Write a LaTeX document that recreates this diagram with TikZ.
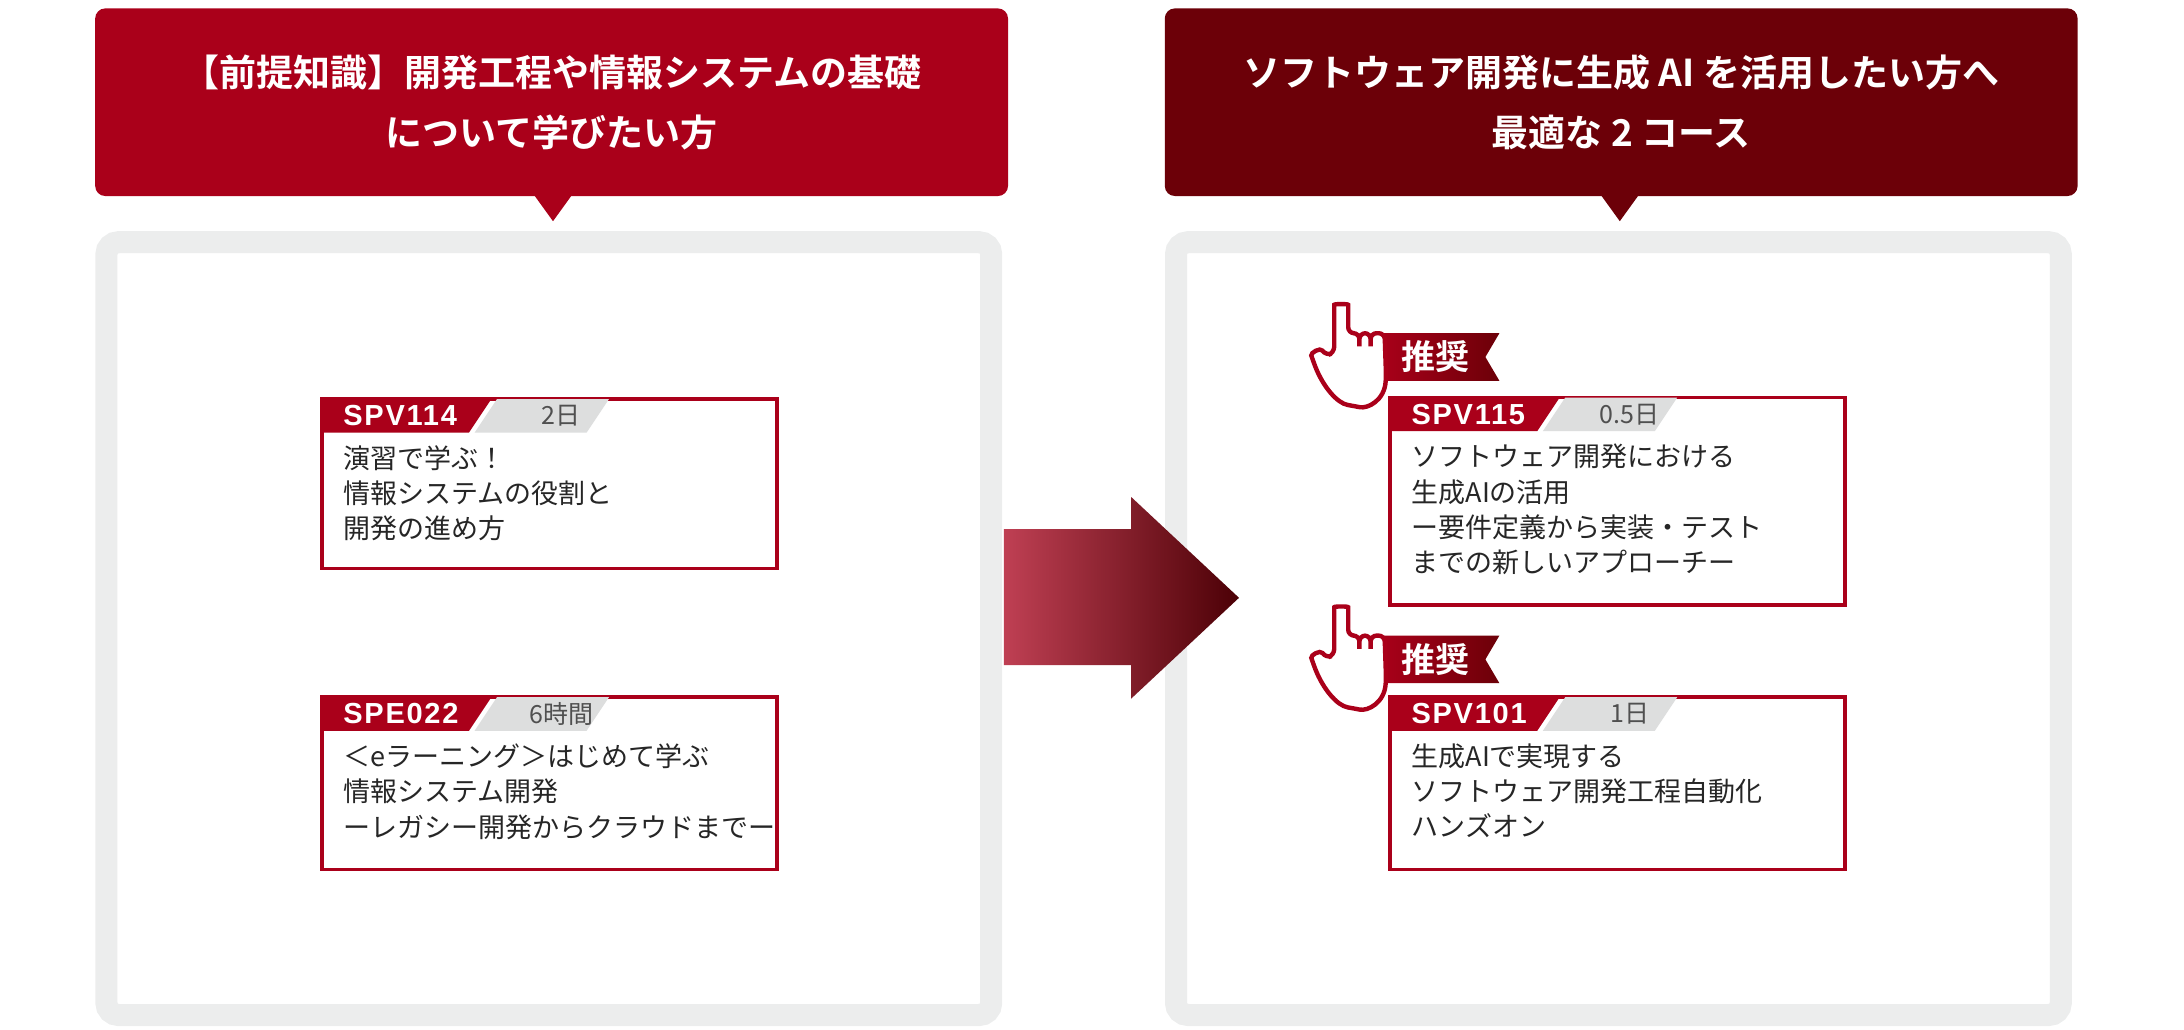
\documentclass[tikz,border=0pt]{standalone}
\usepackage{fontspec}
\setmainfont{Noto Sans CJK JP}
\newfontfamily\headfont{Noto Sans CJK JP Bold}
\newfontfamily\tabfont[LetterSpace=6]{Liberation Sans}
\usetikzlibrary{positioning}
\definecolor{spvred}{RGB}{170,0,26}
\definecolor{spvdark}{RGB}{108,0,8}
\definecolor{framegray}{RGB}{236,237,237}
\definecolor{tabgray}{RGB}{221,222,222}
\definecolor{durgray}{RGB}{80,80,80}

\tikzset{
  header/.style={fill=#1, rounded corners=5pt},
  headtext/.style={text=white, font=\headfont\fontsize{18.5}{30}\selectfont, align=center},
  panel/.style={draw=framegray, line width=11pt, fill=white, rounded corners=6pt},
  card/.style={draw=spvred, line width=1.8pt, fill=white},
  cardtext/.style={anchor=north west, align=left, inner sep=0pt, font=\fontsize{13.5}{17.6}\selectfont, text=black!85},
  codetext/.style={text=white, font=\tabfont\bfseries\fontsize{14.5}{15}\selectfont, inner sep=0pt},
  durtext/.style={text=durgray, font=\fontsize{12.5}{14}\selectfont, inner sep=0pt},
}

% course card: name, x, y (top left), height, code, duration, text
\newcommand{\coursecard}[7]{
  \draw[card] (#2,#3) rectangle ++(325,#4);
  \fill[spvred] (#2,#3) -- ++(121,0) -- ++(-16,24) -- (#2,#3+24) -- cycle;
  \fill[tabgray] (#2+125,#3) -- ++(80,0) -- ++(-16,24) -- ++(-80,0) -- cycle;
  \node[codetext, anchor=west] (#1code) at (#2+15,#3+12) {#5};
  \node[durtext] (#1dur) at (#2+171,#3+12) {#6};
  \node[cardtext] (#1) at (#2+15,#3+33) {#7};
}

% recommend badge: name, x, y (hand top left)
\newcommand{\recommend}[3]{
  \shade[left color=spvred, right color=spvdark] (#2+48,#3+20) -- (#2+134,#3+20) -- (#2+124,#3+37) -- (#2+134,#3+54) -- (#2+48,#3+54) -- cycle;
  \draw[spvred, line width=2.2pt, fill=white, rounded corners=3pt]
    (#2+16,#3+34) -- (#2+16,#3+4) .. controls (#2+16,#3-1) and (#2+26,#3-1) .. (#2+26,#3+4)
    -- (#2+26,#3+20) -- (#2+34,#3+20) -- (#2+34,#3+32)
    -- (#2+34,#3+20) -- (#2+42,#3+20) -- (#2+42,#3+32)
    -- (#2+42,#3+20) -- (#2+52,#3+20) -- (#2+53,#3+50)
    .. controls (#2+52,#3+68) and (#2+40,#3+74) .. (#2+30,#3+72)
    .. controls (#2+18,#3+70) and (#2+8,#3+58) .. (#2+1,#3+40)
    .. controls (#2-1,#3+34) and (#2+6,#3+30) .. (#2+10,#3+36) -- cycle;
  \node[text=white, font=\headfont\fontsize{17}{18}\selectfont, inner sep=0pt] (#1) at (#2+88,#3+37) {推奨};
}

\begin{document}
\begin{tikzpicture}[x=0.7pt, y=-0.7pt]
\useasboundingbox (0,0) rectangle (1560,735);

% headers
\fill[header=spvred] (68,6) rectangle (720,140);
\fill[spvred] (382,140) -- (408,140) -- (395,158) -- cycle;
\node[headtext] (lefthead) at (394,73) {【前提知識】開発工程や情報システムの基礎\\について学びたい方};
\fill[header=spvdark] (832,6) rectangle (1484,140);
\fill[spvdark] (1144,140) -- (1170,140) -- (1157,158) -- cycle;
\node[headtext] (righthead) at (1158,73) {ソフトウェア開発に生成 AI を活用したい方へ\\最適な 2 コース};

% panels
\draw[panel] (76,173) rectangle (708,725);
\draw[panel] (840,173) rectangle (1472,725);

% arrow
\shade[left color=spvred!75!white, right color=spvdark!70!black]
  (717,378) -- (808,378) -- (808,355) -- (885,427) -- (808,499) -- (808,475) -- (717,475) -- cycle;

% courses
\coursecard{spv114}{230}{285}{121}{SPV114}{2日}{演習で学ぶ！\\情報システムの役割と\\開発の進め方}
\coursecard{spe022}{230}{498}{123}{SPE022}{6時間}{＜eラーニング＞はじめて学ぶ\\情報システム開発\\ーレガシー開発からクラウドまでー}
\recommend{rec1}{937}{218}
\coursecard{spv115}{993}{284}{148}{SPV115}{0.5日}{ソフトウェア開発における\\生成AIの活用\\ー要件定義から実装・テスト\\までの新しいアプローチー}
\recommend{rec2}{937}{434}
\coursecard{spv101}{993}{498}{123}{SPV101}{1日}{生成AIで実現する\\ソフトウェア開発工程自動化\\ハンズオン}
\end{tikzpicture}
\end{document}
